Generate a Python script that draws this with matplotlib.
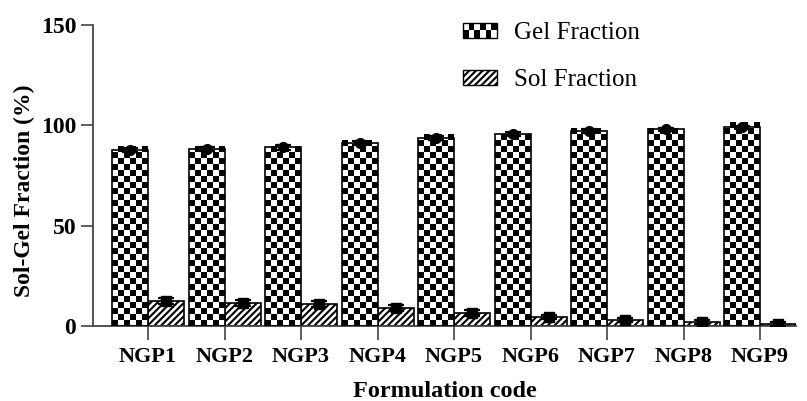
import numpy as np
import matplotlib
matplotlib.use("Agg")
import matplotlib.pyplot as plt
from matplotlib.patches import Rectangle, Patch
from matplotlib.legend_handler import HandlerBase

# Gel / sol fractions (%) per formulation
codes = ["NGP1", "NGP2", "NGP3", "NGP4", "NGP5", "NGP6", "NGP7", "NGP8", "NGP9"]
gel = [87.5, 88.3, 89.0, 91.0, 93.5, 95.5, 97.0, 98.0, 99.0]
gel_err = [1.0, 1.0, 1.2, 1.0, 1.0, 1.0, 1.0, 0.8, 0.8]
sol = [12.5, 11.7, 11.0, 9.0, 6.5, 4.5, 3.0, 2.0, 1.0]
sol_err = [1.5, 1.5, 1.5, 1.5, 1.5, 1.2, 1.2, 1.0, 1.0]

plt.rcParams['font.family'] = ['Liberation Serif', 'DejaVu Serif']
plt.rcParams['hatch.linewidth'] = 1.5

W, H = 807, 401
fig = plt.figure(figsize=(W / 100, H / 100), dpi=100)
ax = fig.add_axes([93 / W, 75 / H, 703 / W, 301 / H])

x = np.arange(len(codes))
w = 0.47
xmin, xmax = -0.72, 8.47
ymax = 150


class CheckerHandler(HandlerBase):
    # legend swatch drawn as a small checkerboard
    def create_artists(self, legend, orig_handle, xdescent, ydescent,
                       width, height, fontsize, trans):
        ncol, nrow = 6, 2
        cw, ch = width / ncol, height / nrow
        x0, y0 = -xdescent, -ydescent
        arts = [Rectangle((x0, y0), width, height, facecolor='white',
                          edgecolor='none', transform=trans)]
        for i in range(nrow):
            for j in range(ncol):
                if (i + j) % 2 == 0:
                    arts.append(Rectangle((x0 + j * cw, y0 + i * ch), cw, ch,
                                          facecolor='black', edgecolor='none',
                                          transform=trans))
        arts.append(Rectangle((x0, y0), width, height, fill=False,
                              edgecolor='black', lw=1.0, transform=trans))
        return arts


gel_bars = ax.bar(x - w / 2, gel, w, facecolor='white', edgecolor='none', zorder=2)
sol_bars = ax.bar(x + w / 2, sol, w, facecolor='white', edgecolor='black',
                  hatch='/////', lw=1.2, zorder=2)

# checkerboard fill for the gel bars, square cells, 6 across
px_x = 703 / (xmax - xmin)
px_y = 301 / ymax
cell_w = w / 6
cell_h = cell_w * px_x / px_y
for b in gel_bars:
    x0 = b.get_x()
    h = b.get_height()
    rows = int(np.ceil(h / cell_h))
    grid = np.add.outer(np.arange(rows), np.arange(6)) % 2
    ax.imshow(grid, cmap='gray', extent=(x0, x0 + w, 0, rows * cell_h),
              origin='lower', interpolation='nearest', aspect='auto',
              zorder=2.5, clip_path=b)
ax.bar(x - w / 2, gel, w, fill=False, edgecolor='black', lw=1.2, zorder=3)

ax.errorbar(x - w / 2, gel, yerr=gel_err, fmt='o', color='black', ms=7,
            capsize=6, elinewidth=1.3, capthick=1.6, zorder=4)
ax.errorbar(x + w / 2, sol, yerr=sol_err, fmt='s', color='black', ms=7,
            capsize=6, elinewidth=1.3, capthick=1.6, zorder=4)

ax.set_xlim(xmin, xmax)
ax.set_ylim(0, ymax)
ax.set_xticks(x)
ax.set_xticklabels(codes, fontsize=16, fontweight='bold')
ax.set_yticks([0, 50, 100, 150])
ax.set_yticklabels(['0', '50', '100', '150'], fontsize=17, fontweight='bold')
ax.tick_params(axis='x', direction='out', length=10, width=1.2, color='#444', pad=5)
ax.tick_params(axis='y', direction='out', length=9, width=1.2, color='#444', pad=3)

for s in ['top', 'right']:
    ax.spines[s].set_visible(False)
for s in ['left', 'bottom']:
    ax.spines[s].set_color('#444')
    ax.spines[s].set_linewidth(1.3)

ax.set_ylabel('Sol-Gel Fraction (%)', fontsize=17, fontweight='bold')
ax.yaxis.set_label_coords(-0.082, 0.45)
ax.set_xlabel('Formulation code', fontsize=17.5, fontweight='bold', labelpad=10)

gel_proxy = Patch(facecolor='white', edgecolor='black')
sol_proxy = Patch(facecolor='white', edgecolor='black', hatch='/////')
ax.legend([gel_proxy, sol_proxy], ['Gel Fraction', 'Sol Fraction'],
          handler_map={gel_proxy: CheckerHandler()},
          loc='upper left', bbox_to_anchor=(463 / W, 1 - 22 / H),
          bbox_transform=fig.transFigure, frameon=False, fontsize=18,
          handlelength=1.36, handleheight=0.55, handletextpad=0.7,
          labelspacing=1.0, borderpad=0, borderaxespad=0)

fig.savefig('out.png', dpi=100)
